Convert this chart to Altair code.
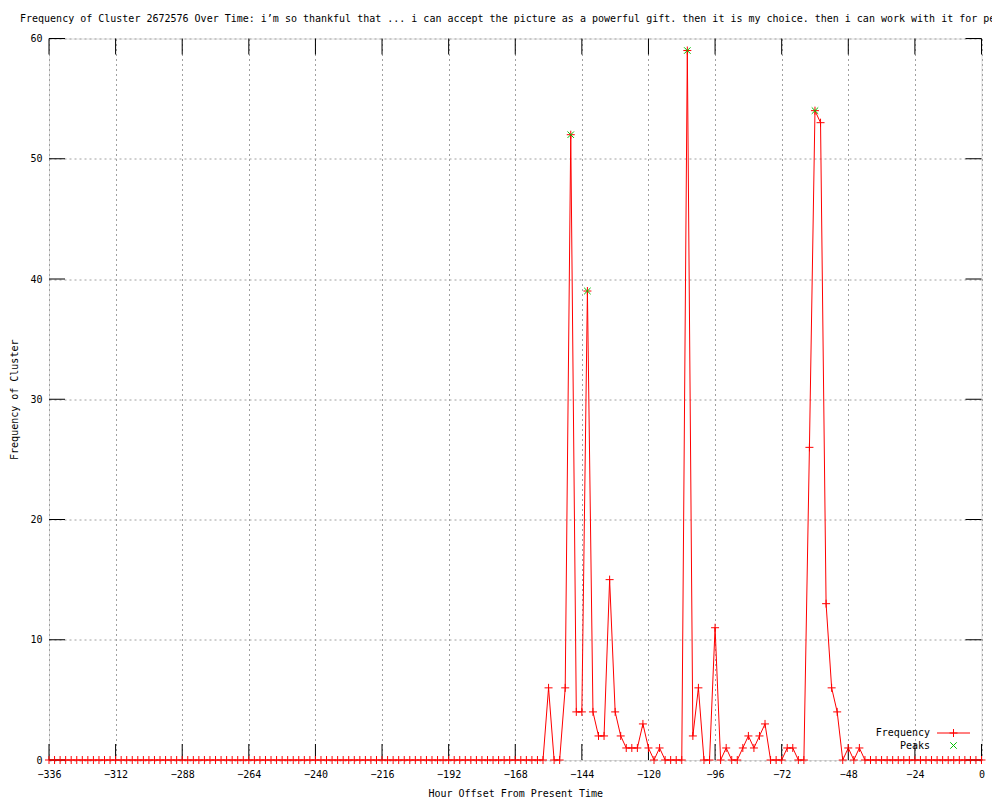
import altair as alt
import pandas as pd

# ---------------- data ----------------
hours = list(range(-336, 2, 2))
frequency = [
    0, 0, 0, 0, 0, 0, 0, 0, 0, 0, 0, 0, 0, 0, 0, 0, 0, 0, 0, 0,
    0, 0, 0, 0, 0, 0, 0, 0, 0, 0, 0, 0, 0, 0, 0, 0, 0, 0, 0, 0,
    0, 0, 0, 0, 0, 0, 0, 0, 0, 0, 0, 0, 0, 0, 0, 0, 0, 0, 0, 0,
    0, 0, 0, 0, 0, 0, 0, 0, 0, 0, 0, 0, 0, 0, 0, 0, 0, 0, 0, 0,
    0, 0, 0, 0, 0, 0, 0, 0, 0, 0,
    # -156 .. -44
    6, 0, 0, 6, 52, 4, 4, 39, 4, 2, 2, 15, 4, 2, 1, 1, 1, 3, 1, 0,
    1, 0, 0, 0, 0, 59, 2, 6, 0, 0, 11, 0, 1, 0, 0, 1, 2, 1, 2, 3,
    0, 0, 0, 1, 1, 0, 0, 26, 54, 53, 13, 6, 4, 0, 1, 0, 1,
    # -42 .. 0
    0, 0, 0, 0, 0, 0, 0, 0, 0, 0, 0, 0, 0, 0, 0, 0, 0, 0, 0, 0, 0, 0,
]
peak_hours = [-148, -142, -106, -60]
peak_values = [52, 39, 59, 54]

x_ticks = [-336, -312, -288, -264, -240, -216, -192, -168, -144, -120, -96, -72, -48, -24, 0]
y_ticks = [0, 10, 20, 30, 40, 50, 60]

title_text = ("Frequency of Cluster 2672576 Over Time: i\u2019m so thankful that ... i can accept the picture "
              "as a powerful gift. then it is my choice. then i can work with it for peace and happiness.")

freq_df = pd.DataFrame({"hour": hours, "freq": frequency})
peak_df = pd.DataFrame({"hour": peak_hours, "freq": peak_values})
xt_df = pd.DataFrame({"hour": x_ticks})
yt_df = pd.DataFrame({"freq": y_ticks})
one_df = pd.DataFrame({"k": [0]})

FONT = "DejaVu Sans Mono"
W, H = 932.5, 721.5
TICK = 16
RED = "#ff0000"
GREEN = "#00c000"
PLUS = "M-1,0L1,0M0,-1L0,1"
XMARK = "M-1,-1L1,1M-1,1L1,-1"

xscale = alt.Scale(domain=[-336, 0], nice=False, zero=False)
yscale = alt.Scale(domain=[0, 60], nice=False, zero=False)

x_axis = alt.Axis(values=x_ticks, grid=True, gridColor="#a0a0a0", gridDash=[2, 3], gridWidth=1,
                  ticks=False, domain=False, labelPadding=9, labelFont=FONT, labelFontSize=10,
                  labelColor="black", title="Hour Offset From Present Time", titleFont=FONT,
                  titleFontSize=10, titleFontWeight="normal", titleColor="black", titlePadding=9,
                  labelFlush=False, labelOverlap=False)
y_axis = alt.Axis(values=y_ticks, grid=True, gridColor="#a0a0a0", gridDash=[2, 3], gridWidth=1,
                  ticks=False, domain=False, labelPadding=7, labelFont=FONT, labelFontSize=10,
                  labelColor="black", title="Frequency of Cluster", titleFont=FONT,
                  titleFontSize=10, titleFontWeight="normal", titleColor="black", titlePadding=10,
                  labelFlush=False, labelOverlap=False)

X = alt.X("hour:Q", scale=xscale, axis=x_axis)
Y = alt.Y("freq:Q", scale=yscale, axis=y_axis)

line = alt.Chart(freq_df).mark_line(color=RED, strokeWidth=1, interpolate="linear").encode(x=X, y=Y)
pts = alt.Chart(freq_df).mark_point(shape=PLUS, filled=False, size=64, color=RED, strokeWidth=1,
                                    opacity=1).encode(x=X, y=Y)
peaks = alt.Chart(peak_df).mark_point(shape=XMARK, filled=False, size=42, color=GREEN, strokeWidth=1,
                                      opacity=1).encode(x=X, y=Y)

# inward tick marks on all four sides
tb = alt.Chart(xt_df).mark_rule(color="black", strokeWidth=1).encode(
    x=X, y=alt.value(H - TICK), y2=alt.value(H))
tt = alt.Chart(xt_df).mark_rule(color="black", strokeWidth=1).encode(
    x=X, y=alt.value(0), y2=alt.value(TICK))
tl = alt.Chart(yt_df).mark_rule(color="black", strokeWidth=1).encode(
    y=Y, x=alt.value(0), x2=alt.value(TICK))
tr = alt.Chart(yt_df).mark_rule(color="black", strokeWidth=1).encode(
    y=Y, x=alt.value(W - TICK), x2=alt.value(W))

# key (gnuplot style: text then sample)
LX = 881
LY1 = 694.5
LY2 = 707
leg_t1 = alt.Chart(one_df).mark_text(text="Frequency", align="right", baseline="middle", font=FONT,
                                     fontSize=10, color="black").encode(x=alt.value(LX), y=alt.value(LY1))
leg_t2 = alt.Chart(one_df).mark_text(text="Peaks", align="right", baseline="middle", font=FONT,
                                     fontSize=10, color="black").encode(x=alt.value(LX), y=alt.value(LY2))
leg_l1 = alt.Chart(one_df).mark_rule(color=RED, strokeWidth=1).encode(
    x=alt.value(LX + 7), x2=alt.value(LX + 40), y=alt.value(LY1))
leg_p1 = alt.Chart(one_df).mark_point(shape=PLUS, filled=False, size=64, color=RED, strokeWidth=1,
                                      opacity=1).encode(x=alt.value(LX + 23.5), y=alt.value(LY1))
leg_p2 = alt.Chart(one_df).mark_point(shape=XMARK, filled=False, size=42, color=GREEN, strokeWidth=1,
                                      opacity=1).encode(x=alt.value(LX + 23.5), y=alt.value(LY2))

chart = alt.layer(
    line, tb, tt, tl, tr, pts, peaks, leg_t1, leg_t2, leg_l1, leg_p1, leg_p2
).properties(
    width=W, height=H,
    title=alt.TitleParams(text=title_text, anchor="start", frame="group", font=FONT, fontSize=10,
                          fontWeight="normal", color="black", dx=-29, offset=10),
    autosize=alt.AutoSizeParams(type="none"),
    padding={"left": 41, "top": 30.5, "right": 10, "bottom": 40},
).configure_view(
    stroke="black", strokeWidth=1
).configure(background="white")

chart.save("out.html", embed_options={"renderer": "svg", "actions": False})
